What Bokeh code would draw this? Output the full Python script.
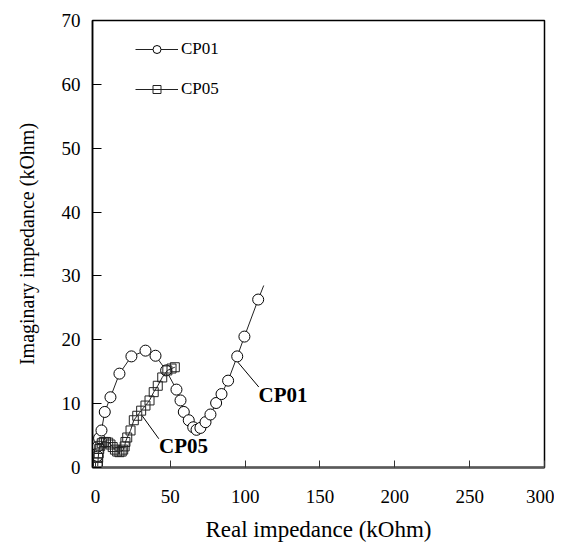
from bokeh.plotting import figure
from bokeh.models import Legend, LegendItem, Range1d, FixedTicker
from bokeh.core.properties import value
from bokeh.embed import file_html
from bokeh.resources import INLINE

# ---- data (kOhm) ----
cp01_x = [1.0, 1.2, 1.6, 2.4, 4.0, 6.2, 10.0, 16.0, 24.0, 33.4, 40.1, 47.2, 54.1, 56.8,
          59.0, 62.3, 65.3, 67.5, 70.1, 73.5, 76.8, 80.6, 84.2, 88.6, 94.7, 99.5, 108.7, 112.4]
cp01_y = [0.5, 1.8, 3.3, 4.6, 5.8, 8.7, 11.0, 14.7, 17.4, 18.3, 17.5, 15.2, 12.2, 10.5,
          8.7, 7.4, 6.3, 5.9, 6.2, 7.1, 8.3, 10.1, 11.5, 13.6, 17.4, 20.5, 26.3, 28.5]

cp05_x = [1.5, 1.6, 1.8, 2.1, 2.5, 3.2, 4.2, 5.5, 7.0, 8.5, 10.0, 11.5, 13.0, 14.5, 16.0,
          17.5, 18.5, 19.5, 20.0, 21.2, 23.4, 25.6, 27.9, 30.5, 33.4, 36.1, 38.9, 41.6,
          44.6, 48.0, 50.8, 53.0]
cp05_y = [0.2, 0.8, 1.5, 2.2, 2.9, 3.4, 3.8, 4.0, 4.0, 3.9, 3.6, 3.2, 2.8, 2.5, 2.4,
          2.5, 2.8, 3.3, 4.0, 4.7, 5.8, 7.4, 8.1, 8.9, 9.7, 10.5, 11.8, 12.8,
          14.1, 15.2, 15.5, 15.7]

series_names = ["CP01", "CP05"]
x_ticks = [0, 50, 100, 150, 200, 250, 300]
y_ticks = [0, 10, 20, 30, 40, 50, 60, 70]

# annotation leaders and labels
ann_x0 = [95.1, 31.2]
ann_y0 = [16.5, 8.1]
ann_x1 = [109.1, 42.3]
ann_y1 = [12.6, 4.5]
ann_tx = [108.9, 42.5]
ann_ty = [11.3, 3.4]

serif = "Liberation Serif"

p = figure(frame_width=452, frame_height=447,
           min_border_left=92, min_border_right=10, min_border_top=20, min_border_bottom=80,
           x_range=Range1d(-2, 300), y_range=Range1d(0, 70),
           output_backend="svg", toolbar_location=None,
           x_axis_label="Real impedance (kOhm)", y_axis_label="Imaginary impedance (kOhm)")

p.grid.visible = False
p.outline_line_color = "black"
p.outline_line_width = 1.5
p.background_fill_color = "white"
p.border_fill_color = "white"

p.xaxis.ticker = FixedTicker(ticks=x_ticks)
p.yaxis.ticker = FixedTicker(ticks=y_ticks)
for ax in (p.xaxis[0], p.yaxis[0]):
    ax.major_tick_out = 0
    ax.minor_tick_out = 0
    ax.minor_tick_in = 0
    ax.major_label_text_font = serif
    ax.major_label_text_font_size = "19px"
    ax.major_label_text_color = "black"
    ax.axis_label_text_font = serif
    ax.axis_label_text_font_style = "normal"
    ax.axis_label_text_color = "black"

p.xaxis.major_tick_in = 7
p.xaxis.major_tick_line_color = "#333333"
p.xaxis.axis_line_color = "#5a5a5a"
p.xaxis.axis_line_width = 2.5
p.xaxis.major_label_standoff = 22
p.xaxis.axis_label_standoff = 11
p.xaxis.axis_label_text_font_size = "23px"

p.yaxis.major_tick_in = 9
p.yaxis.axis_line_color = "black"
p.yaxis.axis_line_width = 1.5
p.yaxis.major_label_standoff = 12
p.yaxis.axis_label_standoff = 21
p.yaxis.axis_label_text_font_size = "20px"

l1 = p.line(cp01_x, cp01_y, line_color="#222222", line_width=1)
s1 = p.scatter(cp01_x[:-1], cp01_y[:-1], marker="circle", size=11,
               fill_color="white", line_color="black", line_width=1)
l2 = p.line(cp05_x, cp05_y, line_color="#222222", line_width=1)
s2 = p.scatter(cp05_x, cp05_y, marker="square", size=9,
               fill_color=None, line_color="#222222", line_width=1)

p.segment(ann_x0, ann_y0, ann_x1, ann_y1, line_color="black", line_width=1)
p.text(ann_tx, ann_ty, text=series_names, text_font=value(serif), text_font_style="bold",
       text_font_size="21px", text_baseline="middle", text_align="left", text_color="black")

legend = Legend(items=[LegendItem(label=series_names[0], renderers=[l1, s1]),
                       LegendItem(label=series_names[1], renderers=[l2, s2])],
                location=(43, 368), padding=0, spacing=20, glyph_width=43, glyph_height=20,
                label_height=20, label_standoff=3,
                label_text_font=serif, label_text_font_size="17px", label_text_color="black",
                background_fill_alpha=0, border_line_color=None)
p.add_layout(legend)

open("out.html", "w").write(file_html(p, INLINE))
